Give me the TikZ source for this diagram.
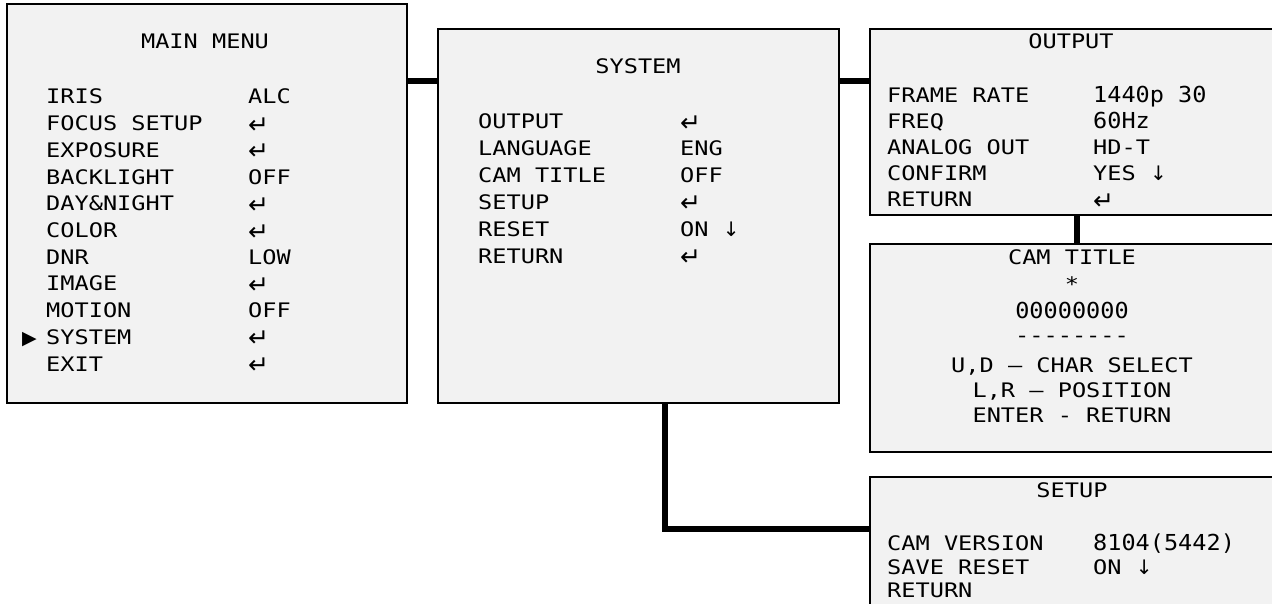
\documentclass[tikz,border=0pt]{standalone}
\usepackage{fontspec}
\usepackage{xcolor}
\newfontfamily\menufont[FakeStretch=1.18]{DejaVu Sans Mono}
\newfontfamily\numfont[FakeStretch=1.07]{DejaVu Sans Mono}
\newfontfamily\symfont{DejaVu Sans}
\newcommand{\ret}{\raisebox{-2.5pt}{\symfont\fontsize{25}{25}\selectfont ↵}}
\newcommand{\dn}{{\symfont ↓}}
\newcommand{\nm}{\numfont\fontsize{22}{24}\selectfont}
\definecolor{boxgray}{HTML}{F2F2F2}

\begin{document}
\begin{tikzpicture}[
      x=1pt, y=-1pt,
      menubox/.style={rectangle, draw, fill=boxgray, line width=2pt, inner sep=0, outer sep=0},
      subbox/.style={rectangle, draw, fill=boxgray, line width=1.3pt, inner sep=0, outer sep=0},
      link/.style={line width=6.5pt},
      txt/.style={inner sep=0, anchor=base west, font=\menufont\fontsize{20}{22}\selectfont},
      head/.style={txt, anchor=base}]
  \useasboundingbox (0,0) rectangle (1272,604);

  % Boxes
  \node[menubox, minimum width=400pt, minimum height=399pt] (main) at (207,203.5) {};
  \node[menubox, minimum width=401pt, minimum height=374pt] (system) at (638.5,216) {};
  \node[subbox, minimum width=405pt, minimum height=186pt] (output) at (1072.5,122) {};
  \node[subbox, minimum width=405pt, minimum height=208pt] (camtitle) at (1072.5,348) {};
  \node[subbox, minimum width=405pt, minimum height=163pt] (setup) at (1072.5,558.5) {};

  % Main menu
  \node[head] (mtitle) at (205,49) {MAIN MENU};
  \foreach \lab/\val [count=\i from 0] in {IRIS/ALC, FOCUS SETUP/\ret, EXPOSURE/\ret,
      BACKLIGHT/OFF, DAY\&NIGHT/\ret, COLOR/\ret, DNR/LOW, IMAGE/\ret,
      MOTION/OFF, SYSTEM/\ret, EXIT/\ret} {
    \node[txt] (m\i) at (46,104+26.7*\i) {\lab};
    \node[txt] (mv\i) at (248,104+26.7*\i) {\val};
  }
  \coordinate (selx) at (37,0);
  \node[txt, font=\symfont\fontsize{19}{20}\selectfont, anchor=base east] (msel) at (selx |- m9.base west) {▶};

  % System
  \node[head] (stitle) at (638,74) {SYSTEM};
  \foreach \lab/\val [count=\i from 0] in {OUTPUT/\ret, LANGUAGE/ENG, CAM TITLE/OFF,
      SETUP/\ret, RESET/ON \dn, RETURN/\ret} {
    \node[txt] (s\i) at (478,129+26.8*\i) {\lab};
    \node[txt] (sv\i) at (680,129+26.8*\i) {\val};
  }

  % Output
  \node[head] (otitle) at (1071,49) {OUTPUT};
  \foreach \lab/\val [count=\i from 0] in {FRAME RATE/{\nm 1440p 30}, FREQ/{\nm 60Hz},
      ANALOG OUT/HD-T, CONFIRM/YES \dn, RETURN/\ret} {
    \node[txt] (o\i) at (887,103+26*\i) {\lab};
    \node[txt] (ov\i) at (1093,103+26*\i) {\val};
  }

  % Cam title
  \node[head] (c0) at (1072,265) {CAM TITLE};
  \node[head] (c1) at (1072,291) {*};
  \node[head, font=\nm] (c2) at (1072,318) {00000000};
  \node[head] (c3) at (1072,342) {--------};
  \node[head] (c4) at (1072,372) {U,D – CHAR SELECT};
  \node[head] (c5) at (1072,397) {L,R – POSITION};
  \node[head] (c6) at (1072,422) {ENTER - RETURN};

  % Setup
  \node[head] (utitle) at (1072,497) {SETUP};
  \node[txt] (u0) at (887,550) {CAM VERSION};
  \node[txt, font=\nm] (uv0) at (1093,550) {8104(5442)};
  \node[txt] (u1) at (887,574) {SAVE RESET};
  \node[txt] (uv1) at (1093,574) {ON \dn};
  \node[txt] (u2) at (887,597) {RETURN};

  % Links
  \coordinate (j1) at (0,81);
  \coordinate (j2) at (1077,0);
  \coordinate (j3) at (665,529);
  \draw[link] (main.east |- j1) -- (system.west |- j1);
  \draw[link] (system.east |- j1) -- (output.west |- j1);
  \draw[link] (output.south -| j2) -- (camtitle.north -| j2);
  \draw[link] (system.south -| j3) -- (j3) -- (setup.west |- j3);

\end{tikzpicture}
\end{document}
